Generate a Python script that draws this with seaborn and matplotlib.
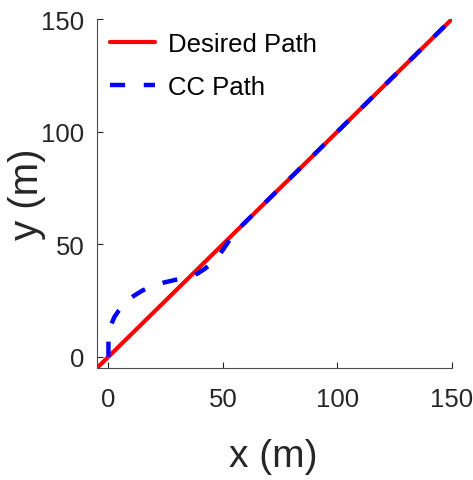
import matplotlib
matplotlib.use("Agg")
import matplotlib.pyplot as plt
import seaborn as sns
import pandas as pd

# Reference straight-line path
desired_x = [-5, 150]
desired_y = [-5, 150]

# Path followed by the controller
cc_x = [0, 0, 0.6, 1.5, 2.5, 4.5, 7, 11, 15, 19, 24, 29, 33, 36, 39, 42, 45, 47.5, 50,
        53, 57, 62, 70, 80, 90, 100, 110, 120, 130, 140, 150]
cc_y = [0, 9, 12.5, 15, 17.5, 20.5, 23.5, 27, 29.5, 31.3, 32.9, 34.1, 35, 35.8, 37, 39, 41.5, 44, 47.5,
        52, 57, 62, 70, 80, 90, 100, 110, 120, 130, 140, 150]

xticks = [0, 50, 100, 150]
yticks = [0, 50, 100, 150]

sns.set_theme(style="ticks")
plt.rcParams["font.family"] = ["Liberation Sans", "DejaVu Sans"]
text_col = "#262626"

fig = plt.figure(figsize=(4.73, 4.81), dpi=100)
ax = fig.add_axes([97 / 473, 1 - 369 / 481, (452 - 97) / 473, (369 - 20) / 481])

desired = pd.DataFrame({"x": desired_x, "y": desired_y})
cc = pd.DataFrame({"x": cc_x, "y": cc_y})

sns.lineplot(data=desired, x="x", y="y", sort=False, estimator=None, ax=ax,
             color="#ff0000", linewidth=3, label="Desired Path")
sns.lineplot(data=cc, x="x", y="y", sort=False, estimator=None, ax=ax,
             color="#0000ff", linewidth=3.2, label="CC Path")
ax.lines[-1].set_dashes([3.4, 4.2])
ax.lines[-1].set_dash_capstyle("butt")

ax.set_xlim(-5, 150)
ax.set_ylim(-5, 150)
ax.set_xticks(xticks)
ax.set_yticks(yticks)
ax.tick_params(direction="in", length=4, width=0.8, colors=text_col, labelsize=18.5)
ax.tick_params(axis="x", pad=14)
ax.tick_params(axis="y", pad=9)
ax.set_xlabel("x (m)", fontsize=28, color=text_col)
ax.set_ylabel("y (m)", fontsize=29, color=text_col)
ax.xaxis.set_label_coords(0.496, -0.2)
ax.yaxis.set_label_coords(-0.145, 0.5)
for side in ("left", "bottom"):
    ax.spines[side].set_color("#4d4d4d")
    ax.spines[side].set_linewidth(0.8)
sns.despine(ax=ax)

leg = ax.legend(loc="upper left", frameon=False, fontsize=18.5,
                handlelength=1.75, handletextpad=0.5, labelspacing=0.75,
                borderaxespad=0.2, borderpad=0.3)
for t in leg.get_texts():
    t.set_color("black")

fig.savefig("out.png", dpi=100, facecolor="white")
